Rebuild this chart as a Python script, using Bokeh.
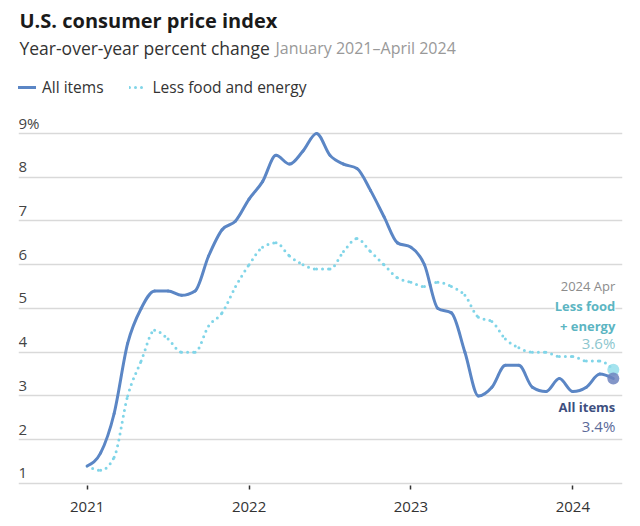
from bokeh.plotting import figure
from bokeh.models import Range1d, FixedTicker, Label, Legend, LegendItem, ColumnDataSource, Grid
from bokeh.core.properties import value
from bokeh.embed import file_html
from bokeh.resources import INLINE

FONT = "Open Sans"

# ---------------- data ----------------
title_text = "U.S. consumer price index"
subtitle_text = "Year-over-year percent change"
period_text = "January 2021\u2013April 2024"
series_names = ["All items", "Less food and energy"]

years = [2021, 2022, 2023, 2024]
year_labels = ["2021", "2022", "2023", "2024"]
month_index = list(range(40))  # Jan 2021 .. Apr 2024

all_items = [1.4, 1.7, 2.6, 4.2, 5.0, 5.4, 5.4, 5.3, 5.4, 6.2, 6.8, 7.0,
             7.5, 7.9, 8.5, 8.3, 8.6, 9.0, 8.5, 8.3, 8.2, 7.7, 7.1, 6.5,
             6.4, 6.0, 5.0, 4.9, 4.0, 3.0, 3.2, 3.7, 3.7, 3.2, 3.1, 3.4,
             3.1, 3.2, 3.5, 3.4]
core = [1.4, 1.3, 1.6, 3.0, 3.8, 4.5, 4.3, 4.0, 4.0, 4.6, 4.9, 5.5,
        6.0, 6.4, 6.5, 6.2, 6.0, 5.9, 5.9, 6.3, 6.6, 6.3, 6.0, 5.7,
        5.6, 5.5, 5.6, 5.5, 5.3, 4.8, 4.7, 4.3, 4.1, 4.0, 4.0, 3.9,
        3.9, 3.8, 3.8, 3.6]

y_ticks = [1, 2, 3, 4, 5, 6, 7, 8, 9]
y_tick_labels = ["1", "2", "3", "4", "5", "6", "7", "8", "9%"]

end_period = "2024 Apr"
core_end_lines = ["Less food", "+ energy"]
all_end_line = "All items"

# ---------------- styles ----------------
C_ALL = "#5b86c5"
C_CORE = "#80d5e8"

x_lo, x_hi = -5.09, 39.68
y_lo, y_hi = 0.954, 12.04


def sign(v):
    return (v > 0) - (v < 0)


def mono_tangents(ys):
    n = len(ys)
    s = [ys[i + 1] - ys[i] for i in range(n - 1)]
    m = [0.0] * n
    for i in range(1, n - 1):
        s0, s1 = s[i - 1], s[i]
        pp = (s0 + s1) / 2.0
        m[i] = (sign(s0) + sign(s1)) * min(abs(s0), abs(s1), 0.5 * abs(pp))
    m[0] = (3 * s[0] - m[1]) / 2.0
    m[-1] = (3 * s[-1] - m[-2]) / 2.0
    return m


def bezier_source(xs, ys):
    m = mono_tangents(ys)
    n = len(xs)
    d = dict(x0=[], y0=[], x1=[], y1=[], cx0=[], cy0=[], cx1=[], cy1=[])
    for i in range(n - 1):
        h = xs[i + 1] - xs[i]
        d["x0"].append(xs[i]); d["y0"].append(ys[i])
        d["x1"].append(xs[i + 1]); d["y1"].append(ys[i + 1])
        d["cx0"].append(xs[i] + h / 3.0); d["cy0"].append(ys[i] + m[i] * h / 3.0)
        d["cx1"].append(xs[i + 1] - h / 3.0); d["cy1"].append(ys[i + 1] - m[i + 1] * h / 3.0)
    return ColumnDataSource(d)


p = figure(width=640, height=526, x_range=Range1d(x_lo, x_hi), y_range=Range1d(y_lo, y_hi),
           output_backend="svg", toolbar_location=None, y_axis_location=None,
           min_border_left=18, min_border_right=18, min_border_top=0, min_border_bottom=41)
p.outline_line_color = None
p.background_fill_color = "white"
p.border_fill_color = "white"
p.grid.visible = False

grid = Grid(dimension=1, ticker=FixedTicker(ticks=y_ticks), grid_line_color="#d9d9d9", grid_line_width=1.5)
p.add_layout(grid)

xa = p.xaxis[0]
tick_pos = [12 * (yr - years[0]) for yr in years]
xa.ticker = FixedTicker(ticks=tick_pos)
xa.major_label_overrides = {t: lab for t, lab in zip(tick_pos, year_labels)}
xa.axis_line_color = None
xa.major_tick_in = 0
xa.major_tick_out = 4
xa.major_tick_line_color = "#333333"
xa.major_tick_line_width = 1.5
xa.minor_tick_line_color = None
xa.major_label_text_font = FONT
xa.major_label_text_font_size = "15px"
xa.major_label_text_color = "#333333"
xa.major_label_standoff = 12

# y tick labels above gridlines
p.text(x=[x_lo] * len(y_ticks), y=y_ticks, text=y_tick_labels, text_font=value(FONT),
       text_font_size="15px", text_color="#444444", text_align="left",
       text_baseline="middle", y_offset=-10)

# lines
r_core = p.bezier(source=bezier_source(month_index, core), x0="x0", y0="y0", x1="x1", y1="y1",
                  cx0="cx0", cy0="cy0", cx1="cx1", cy1="cy1",
                  line_color=C_CORE, line_width=3, line_dash="0 6", line_cap="round")
r_all = p.bezier(source=bezier_source(month_index, all_items), x0="x0", y0="y0", x1="x1", y1="y1",
                 cx0="cx0", cy0="cy0", cx1="cx1", cy1="cy1",
                 line_color=C_ALL, line_width=3, line_cap="round")

# end dots
p.scatter(x=[month_index[-1]], y=[core[-1]], size=12, fill_color="#8fdcea", fill_alpha=0.8, line_color=None)
p.scatter(x=[month_index[-1]], y=[all_items[-1]], size=12, fill_color="#6d84be", fill_alpha=0.85, line_color=None)

# end labels
xe = month_index[-1]
p.text(x=[xe], y=[core[-1]], text=[end_period], text_font=value(FONT), text_font_size="13px",
       text_color="#8c8c8c", text_align="right", text_baseline="middle", x_offset=2, y_offset=-84)
p.text(x=[xe, xe], y=[core[-1], core[-1]], text=core_end_lines, text_font=value(FONT),
       text_font_size="13px", text_font_style="bold", text_color="#5cb5c2", text_align="right",
       text_baseline="middle", x_offset=2, y_offset=[-64, -44], background_fill_color="white")
p.text(x=[xe], y=[core[-1]], text=[f"{core[-1]}%"], text_font=value(FONT), text_font_size="15px",
       text_color="#8cc6ce", text_align="right", text_baseline="middle", x_offset=2, y_offset=-27)
p.text(x=[xe], y=[all_items[-1]], text=[all_end_line], text_font=value(FONT), text_font_size="13px",
       text_font_style="bold", text_color="#3e4f80", text_align="right", text_baseline="middle",
       x_offset=2, y_offset=29)
p.text(x=[xe], y=[all_items[-1]], text=[f"{all_items[-1]}%"], text_font=value(FONT), text_font_size="15px",
       text_color="#5b6a99", text_align="right", text_baseline="middle", x_offset=2, y_offset=48)

# legend
legend = Legend(items=[LegendItem(label=series_names[0], renderers=[r_all]),
                       LegendItem(label=series_names[1], renderers=[r_core])],
                location=(0, 387), orientation="horizontal", border_line_color=None,
                background_fill_alpha=0, padding=0, margin=0, spacing=25, glyph_width=18,
                glyph_height=16, label_height=16, label_standoff=6, label_text_font=FONT,
                label_text_font_size="15.5px", label_text_color="#333333")
p.add_layout(legend)

# titles
p.add_layout(Label(x=1, y=465, x_units="screen", y_units="screen", text=title_text, text_font=FONT,
                   text_font_style="bold", text_font_size="20px", text_color="#1a1a1a",
                   text_baseline="middle"))
p.add_layout(Label(x=1, y=438, x_units="screen", y_units="screen", text=subtitle_text, text_font=FONT,
                   text_font_size="17.5px", text_color="#333333", text_baseline="middle"))
p.add_layout(Label(x=257, y=437.5, x_units="screen", y_units="screen", text=period_text, text_font=FONT,
                   text_font_size="16px", text_color="#999999", text_baseline="middle"))

open("out.html", "w").write(file_html(p, INLINE))
